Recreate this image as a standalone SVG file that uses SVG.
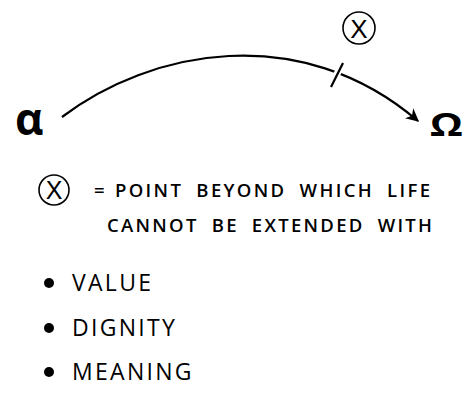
<svg xmlns="http://www.w3.org/2000/svg" width="472" height="393" viewBox="0 0 472 393">
<style>
.t{font-family:"Open Sans","Liberation Sans",sans-serif;fill:#000}
.thin{font-family:"Liberation Sans",sans-serif}
.leg{font-size:18.5px;font-weight:600}
.item{font-size:23px;letter-spacing:2.3px}
.ring{fill:none;stroke:#000;stroke-width:1.6}
.ln{fill:none;stroke:#000;stroke-width:2.2}
</style>
<defs>
<marker id="ah" viewBox="0 0 10 10" refX="9" refY="5" markerWidth="6" markerHeight="6" markerUnits="strokeWidth" orient="auto">
<path d="M0,0 L10,5 L0,10 L3,5 Z" fill="#000"/>
</marker>
</defs>
<g id="alpha"><text class="t" x="15" y="135" font-size="44" font-weight="bold">α</text></g>
<g id="omega"><text class="t" transform="translate(430,136) scale(1.3,1)" x="0" y="0" font-size="32" font-weight="bold">Ω</text></g>
<g id="point-x">
<circle class="ring" cx="359" cy="28" r="16"/>
<text class="t thin" x="359" y="37.5" font-size="26" text-anchor="middle">X</text>
</g>
<g id="connectors">
<path class="ln" d="M62,117 C150,50 300,20 418,121" marker-end="url(#ah)"/>
<line x1="333" y1="82" x2="341" y2="66" stroke="#fff" stroke-width="7"/>
<line class="ln" x1="331" y1="87" x2="343" y2="63"/>
</g>
<g id="legend">
<circle class="ring" cx="54" cy="190" r="15"/>
<text class="t thin" x="54" y="199" font-size="25" text-anchor="middle">X</text>
<text class="t leg" x="94" y="197">=</text>
<text class="t leg" x="115" y="197" textLength="315" lengthAdjust="spacing" word-spacing="6">POINT BEYOND WHICH LIFE</text>
<text class="t leg" x="107" y="232" textLength="325" lengthAdjust="spacing" word-spacing="6">CANNOT BE EXTENDED WITH</text>
</g>
<g id="list">
<circle cx="49" cy="283" r="5"/>
<text class="t item" x="72" y="291">VALUE</text>
<circle cx="49" cy="328" r="5"/>
<text class="t item" x="72" y="336">DIGNITY</text>
<circle cx="49" cy="372" r="5"/>
<text class="t item" x="72" y="380">MEANING</text>
</g>
</svg>
